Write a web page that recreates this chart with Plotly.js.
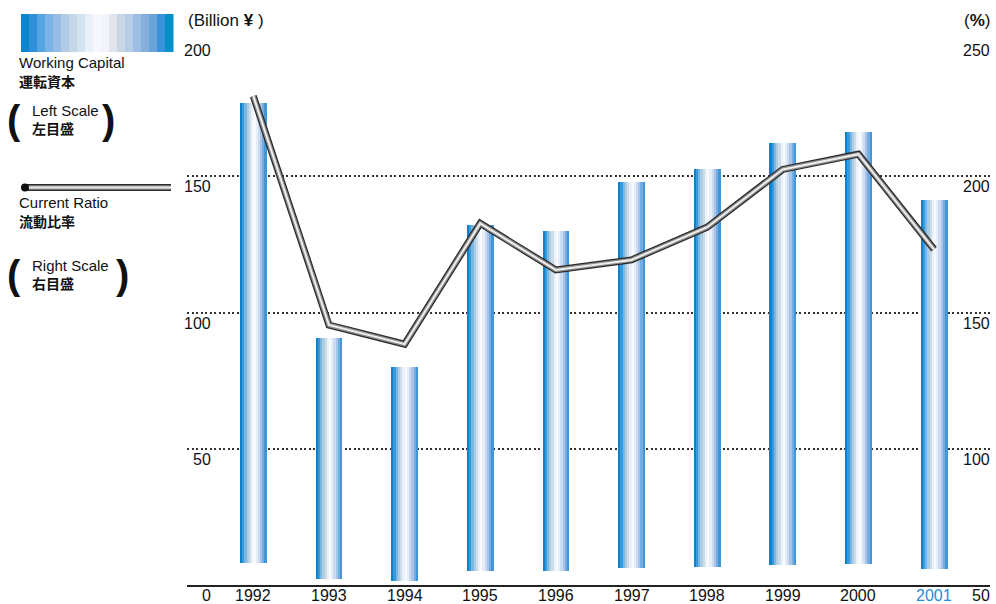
<!DOCTYPE html>
<html>
<head>
<meta charset="utf-8">
<script src="https://cdn.plot.ly/plotly-3.0.1.min.js"></script>
<style>
  html, body { margin: 0; padding: 0; background: #fff; }
  #chart { width: 996px; height: 604px; }
</style>
</head>
<body>
<div id="chart"></div>
<script>
// ---- data ----
const years = [1992, 1993, 1994, 1995, 1996, 1997, 1998, 1999, 2000, 2001];
const yearLabels = ['1992', '1993', '1994', '1995', '1996', '1997', '1998', '1999', '2000', '2001'];
const workingCapitalTop = [177.0, 90.8, 80.1, 132.1, 129.9, 147.9, 152.7, 162.2, 166.2, 141.3];
const workingCapitalBase = [8.2, 2.3, 1.6, 5.1, 5.1, 6.2, 6.6, 7.3, 7.7, 5.9];
const currentRatio = [229.4, 145.4, 138.4, 182.7, 165.6, 169.3, 181.3, 202.5, 208.1, 173.2];
const leftTicks = [0, 50, 100, 150, 200];
const rightTicks = [50, 100, 150, 200, 250];

// ---- styles ----
const FONT = 'Liberation Sans, Arial, Helvetica, sans-serif';
const CJK = 'Noto Sans CJK JP, Noto Sans CJK SC, sans-serif';
const barStripes = ['#0d82cc', '#3a98dc', '#7ab8e2', '#aecce2', '#cddde8', '#eaf1f9',
                    '#f7faff', '#e6eefa', '#cbdcf2', '#a9c4e8', '#78acdf', '#3f97da'];
const legendStripes = ['#0d85cc', '#2f8fd8', '#55a5e0', '#7ab3e4', '#98bde4', '#b2cbe6',
                       '#c5d8ea', '#d3e4f0', '#eaf0fa', '#f6f8fe', '#f2f4fa', '#e0e5ee',
                       '#c9d6e6', '#b6cde8', '#9dbde4', '#86b0dc', '#6aa4d8', '#3a92dc', '#0390c8'];
const BAR_W = 0.353;
const lineLayers = [{c: '#2a2a2a', w: 7}, {c: '#8c8c8c', w: 4.5}, {c: '#eeeeee', w: 2}];

// plot area in pixels
const PL = 187, PR = 990, PT = 40, PB = 585;
const px = x => (x - PL) / (PR - PL);
const py = y => (PB - y) / (PB - PT);

const traces = [];
const barHeights = workingCapitalTop.map((t, i) => t - workingCapitalBase[i]);
barStripes.forEach((col, i) => {
  const sw = BAR_W / barStripes.length;
  traces.push({
    type: 'bar', x: years, y: barHeights, base: workingCapitalBase,
    width: sw * 1.08, offset: -BAR_W / 2 + i * sw,
    marker: {color: col, line: {width: 0}},
    hoverinfo: 'skip', yaxis: 'y', xaxis: 'x'
  });
});
lineLayers.forEach(l => {
  traces.push({
    type: 'scatter', mode: 'lines', x: years, y: currentRatio, yaxis: 'y2',
    line: {color: l.c, width: l.w}, hoverinfo: 'skip'
  });
});

const annotations = [];
leftTicks.forEach(v => annotations.push({
  xref: 'paper', yref: 'y', x: px(213), y: v, xanchor: 'right', yanchor: 'top',
  text: String(v), showarrow: false, font: {family: FONT, size: 16, color: '#111'}
}));
rightTicks.forEach(v => annotations.push({
  xref: 'paper', yref: 'y2', x: px(992), y: v, xanchor: 'right', yanchor: 'top',
  text: String(v), showarrow: false, font: {family: FONT, size: 16, color: '#111'}
}));
years.forEach((yr, i) => annotations.push({
  xref: 'x', yref: 'y', x: yr, y: 0, xanchor: 'center', yanchor: 'top',
  text: yearLabels[i], showarrow: false,
  font: {family: FONT, size: 16, color: i === years.length - 1 ? '#1f8dd6' : '#111'}
}));
annotations.push({xref: 'paper', yref: 'paper', x: px(186), y: py(20), xanchor: 'left', yanchor: 'middle',
  text: '(Billion <b>¥</b> )', showarrow: false, font: {family: FONT, size: 17, color: '#111'}});
annotations.push({xref: 'paper', yref: 'paper', x: px(992), y: py(20), xanchor: 'right', yanchor: 'middle',
  text: '(<b>%</b>)', showarrow: false, font: {family: FONT, size: 17, color: '#111'}});

function legText(x, y, t, bold) {
  annotations.push({xref: 'paper', yref: 'paper', x: px(x), y: py(y), xanchor: 'left', yanchor: 'middle',
    text: bold ? '<b>' + t + '</b>' : t, showarrow: false, borderpad: 0,
    font: {family: bold ? CJK : FONT, size: bold ? 14 : 15, color: '#111'}});
}
legText(18, 63, 'Working Capital');
legText(18, 81, '運転資本', true);
legText(31, 110, 'Left Scale');
legText(31, 128, '左目盛', true);
legText(18, 203, 'Current Ratio');
legText(18, 221, '流動比率', true);
legText(31, 265, 'Right Scale');
legText(31, 283, '右目盛', true);
function paren(x, y, t) {
  annotations.push({xref: 'paper', yref: 'paper', x: px(x), y: py(y), xanchor: 'left', yanchor: 'middle',
    text: '<b>' + t + '</b>', showarrow: false, font: {family: FONT, size: 40, color: '#111'}});
}
paren(5, 120, '(');
paren(100, 120, ')');
paren(5, 275, '(');
paren(114, 275, ')');

const shapes = [];
const sw = (173 - 21) / legendStripes.length;
legendStripes.forEach((c, i) => shapes.push({
  type: 'rect', xref: 'paper', yref: 'paper',
  x0: px(21 + i * sw), x1: px(21 + (i + 1) * sw + 0.5), y0: py(52), y1: py(14),
  fillcolor: c, line: {width: 0}
}));
lineLayers.forEach(l => shapes.push({
  type: 'line', xref: 'paper', yref: 'paper', x0: px(25), x1: px(171), y0: py(187.5), y1: py(187.5),
  line: {color: l.c, width: l.w}
}));
shapes.push({type: 'circle', xref: 'paper', yref: 'paper', x0: px(21), x1: px(29), y0: py(191.5), y1: py(183.5),
  fillcolor: '#111', line: {width: 0}});

const layout = {
  width: 996, height: 604,
  paper_bgcolor: '#fff', plot_bgcolor: '#fff',
  margin: {l: PL, r: 996 - PR, t: PT, b: 604 - PB},
  showlegend: false, barmode: 'overlay', bargap: 0,
  xaxis: {
    type: 'linear', range: [1991.123, 2001.74], tickvals: years, showticklabels: false,
    ticks: '', showgrid: false, zeroline: false,
    showline: true, linecolor: '#222', linewidth: 2, fixedrange: true
  },
  yaxis: {
    range: [0, 200], tickvals: [50, 100, 150, 200], showticklabels: false, ticks: '',
    showgrid: true, gridcolor: '#333', gridwidth: 2, griddash: '2px,2.5px',
    zeroline: false, showline: false, fixedrange: true
  },
  yaxis2: {
    range: [50, 250], overlaying: 'y', side: 'right', showgrid: false, showticklabels: false,
    ticks: '', zeroline: false, showline: false, fixedrange: true
  },
  annotations: annotations,
  shapes: shapes
};

Plotly.newPlot('chart', traces, layout, {displayModeBar: false, staticPlot: true});
</script>
</body>
</html>
